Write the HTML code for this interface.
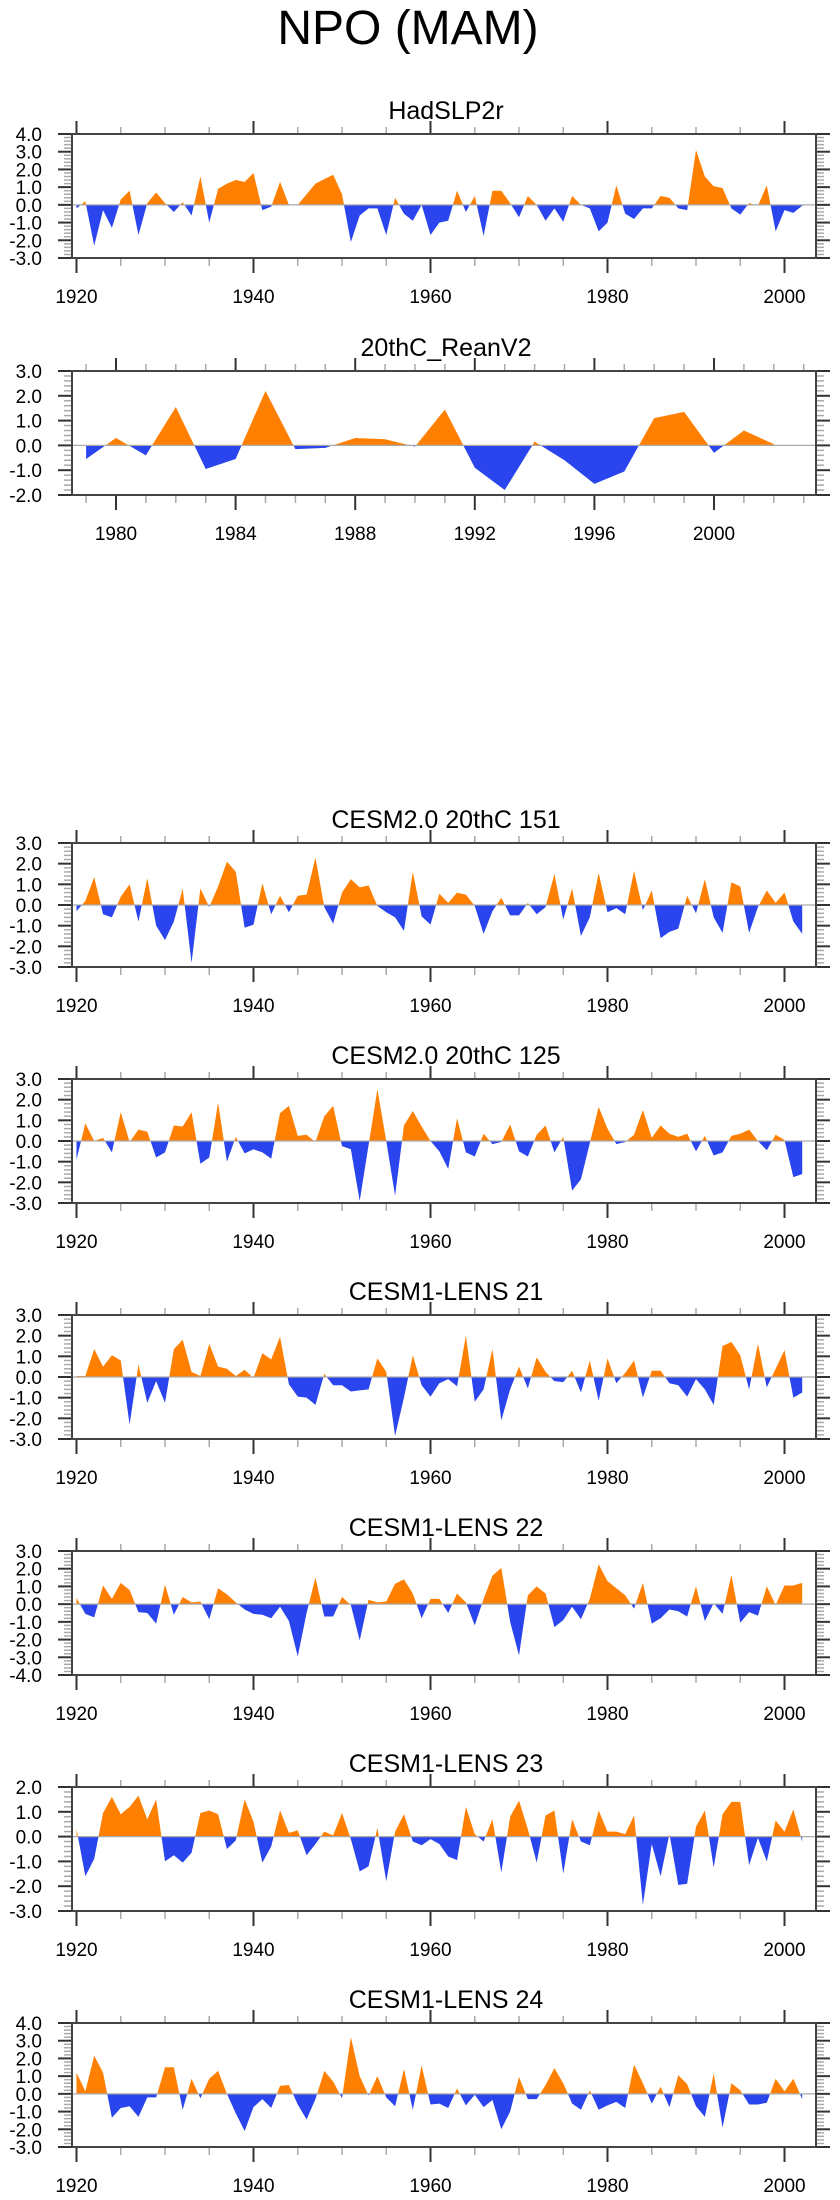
<!DOCTYPE html>
<html><head><meta charset="utf-8">
<style>
html,body{margin:0;padding:0;background:#fff;}
svg{display:block;font-family:"Liberation Sans",Arial,sans-serif;}
</style></head>
<body>
<svg id="chart" xmlns="http://www.w3.org/2000/svg" width="840" height="2200" viewBox="0 0 840 2200">
<text x="408" y="44" font-size="48" text-anchor="middle" fill="#000">NPO (MAM)</text>
</svg>
<script>
const panelTitles = ["HadSLP2r","20thC_ReanV2","CESM2.0 20thC 151","CESM2.0 20thC 125","CESM1-LENS 21","CESM1-LENS 22","CESM1-LENS 23","CESM1-LENS 24"];
const startYears = [1920,1979,1920,1920,1920,1920,1920,1920];
const yMaxes = [4,3,3,3,3,3,2,4];
const yMins = [-3,-2,-3,-3,-3,-4,-3,-3];
const seriesHad = [-0.2,0.2,-2.3,-0.3,-1.3,0.3,0.8,-1.7,0.1,0.7,
0.1,-0.4,0.15,-0.6,1.6,-1.0,0.9,1.2,1.4,1.3,
1.8,-0.3,-0.1,1.3,0.0,0.0,0.6,1.2,1.45,1.7,
0.6,-2.1,-0.6,-0.2,-0.2,-1.7,0.4,-0.5,-0.9,0.0,
-1.7,-1.0,-0.9,0.8,-0.4,0.5,-1.75,0.8,0.8,0.1,
-0.7,0.5,0.0,-0.9,-0.2,-0.95,0.5,0.0,-0.2,-1.5,
-1.0,1.1,-0.5,-0.8,-0.2,-0.2,0.5,0.4,-0.2,-0.3,
3.1,1.6,1.05,0.95,-0.2,-0.55,0.1,-0.05,1.1,-1.5,
-0.3,-0.45,-0.05];
const seriesRean = [-0.55,0.3,-0.4,1.55,-0.95,-0.55,2.2,-0.15,-0.1,0.3,0.25,-0.05,1.45,-0.9,-1.8,0.15,-0.6,-1.55,-1.05,1.1,1.35,-0.3,0.6,0.05];
const seriesC151 = [-0.3,0.2,1.35,-0.45,-0.6,0.4,1.0,-0.8,1.3,-1.0,
-1.7,-0.8,0.8,-2.8,0.8,-0.1,0.9,2.1,1.6,-1.1,
-0.95,1.05,-0.45,0.45,-0.35,0.45,0.5,2.3,-0.1,-0.9,
0.6,1.25,0.85,0.95,-0.05,-0.35,-0.6,-1.25,1.6,-0.55,
-0.95,0.55,0.1,0.6,0.5,-0.05,-1.4,-0.3,0.35,-0.5,
-0.5,0.1,-0.45,-0.1,1.5,-0.7,0.8,-1.5,-0.6,1.55,
-0.35,-0.15,-0.45,1.65,-0.25,0.7,-1.6,-1.3,-1.15,0.45,
-0.4,1.25,-0.6,-1.35,1.1,0.9,-1.35,-0.1,0.7,0.1,
0.6,-0.8,-1.4];
const seriesC125 = [-0.9,0.85,0.0,0.15,-0.55,1.4,-0.05,0.55,0.45,-0.8,
-0.55,0.75,0.7,1.4,-1.1,-0.8,1.85,-1.0,0.2,-0.6,
-0.4,-0.55,-0.85,1.35,1.7,0.25,0.3,-0.05,1.2,1.7,
-0.25,-0.4,-2.9,-0.2,2.5,0.0,-2.65,0.75,1.45,0.7,
0.0,-0.5,-1.35,1.1,-0.55,-0.75,0.35,-0.15,-0.05,0.8,
-0.5,-0.75,0.3,0.75,-0.55,0.2,-2.4,-1.85,-0.1,1.65,
0.6,-0.15,-0.05,0.3,1.5,0.15,0.75,0.35,0.2,0.35,
-0.5,0.25,-0.7,-0.55,0.25,0.35,0.55,0.0,-0.45,0.3,
0.05,-1.75,-1.6];
const seriesL21 = [0.05,0.05,1.35,0.5,1.05,0.8,-2.3,0.6,-1.25,-0.2,
-1.25,1.35,1.8,0.25,0.05,1.6,0.5,0.4,0.05,0.35,
-0.05,1.15,0.85,1.95,-0.35,-0.95,-1.0,-1.35,0.15,-0.4,
-0.4,-0.7,-0.65,-0.6,0.9,0.25,-2.85,-1.0,1.05,-0.4,
-0.95,-0.3,-0.1,-0.45,2.0,-1.2,-0.6,1.35,-2.1,-0.6,
0.5,-0.55,0.95,0.25,-0.2,-0.25,0.3,-0.75,0.8,-1.15,
0.9,-0.3,0.2,0.8,-1.0,0.3,0.3,-0.3,-0.4,-0.95,
-0.1,-0.6,-1.35,1.5,1.7,1.05,-0.6,1.6,-0.5,0.4,
1.3,-1.0,-0.75];
const seriesL22 = [0.35,-0.55,-0.75,1.05,0.3,1.2,0.8,-0.45,-0.5,-1.1,
1.1,-0.6,0.4,0.1,0.15,-0.85,0.9,0.55,0.1,-0.3,
-0.55,-0.6,-0.8,-0.15,-0.95,-2.95,-0.5,1.5,-0.7,-0.7,
0.4,-0.05,-2.05,0.25,0.1,0.15,1.15,1.4,0.6,-0.8,
0.3,0.3,-0.5,0.6,0.1,-1.2,0.3,1.6,2.05,-1.0,
-2.9,0.5,1.0,0.6,-1.3,-0.9,-0.15,-0.85,0.3,2.25,
1.3,0.9,0.5,-0.25,1.2,-1.1,-0.8,-0.3,-0.4,-0.7,
1.0,-0.95,0.05,-0.55,1.65,-1.05,-0.45,-0.65,1.0,-0.05,
1.05,1.05,1.2];
const seriesL23 = [0.3,-1.6,-0.9,0.95,1.6,0.9,1.2,1.65,0.7,1.5,
-1.0,-0.75,-1.05,-0.65,0.95,1.05,0.9,-0.5,-0.15,1.5,
0.6,-1.05,-0.4,1.05,0.15,0.25,-0.75,-0.3,0.2,0.05,
0.95,-0.1,-1.4,-1.2,0.35,-1.8,0.2,0.9,-0.2,-0.35,
-0.1,-0.3,-0.8,-0.95,1.2,0.1,-0.2,0.7,-1.45,0.8,
1.45,0.3,-1.05,0.85,1.05,-1.5,0.7,-0.2,-0.35,1.05,
0.2,0.2,0.1,0.85,-2.75,-0.3,-1.6,0.1,-1.95,-1.9,
0.4,1.05,-1.25,0.9,1.4,1.4,-1.15,-0.05,-1.0,0.65,
0.2,1.1,-0.2];
const seriesL24 = [1.2,0.15,2.15,1.2,-1.35,-0.8,-0.7,-1.3,-0.2,-0.2,
1.5,1.5,-0.9,0.85,-0.25,0.85,1.3,0.0,-1.1,-2.1,
-0.75,-0.3,-0.8,0.45,0.5,-0.6,-1.45,-0.3,1.3,0.7,
-0.25,3.2,1.0,-0.1,1.0,-0.2,-0.7,1.4,-0.9,1.6,
-0.6,-0.55,-0.8,0.3,-0.65,-0.05,-0.75,-0.35,-2.0,-1.0,
0.95,-0.3,-0.3,0.5,1.45,0.6,-0.55,-0.9,0.2,-0.9,
-0.65,-0.45,-0.8,1.65,0.6,-0.55,0.4,-0.75,1.05,0.55,
-0.7,-1.3,1.15,-1.9,0.6,0.2,-0.6,-0.6,-0.5,0.85,
0.15,0.85,-0.3];
const allSeries = [seriesHad,seriesRean,seriesC151,seriesC125,seriesL21,seriesL22,seriesL23,seriesL24];

const NS = "http://www.w3.org/2000/svg";
const svg = document.getElementById("chart");
const panelTops = [134,371,843,1079,1315,1551,1787,2023];
const PH = 124, FL = 72, FR = 816;
function mk(tag, attrs, parent){ const e=document.createElementNS(NS,tag); for(const k in attrs) e.setAttribute(k,attrs[k]); parent.appendChild(e); return e; }

for (let p=0;p<8;p++){
  const top=panelTops[p], bot=top+PH;
  const g=mk("g",{},svg);
  
  
  const yMax=yMaxes[p], yMin=yMins[p];
  const yS=v=>top+(yMax-v)/(yMax-yMin)*PH;
  const isRean=(p===1);
  const xS=isRean ? (yr=>116+(yr-1980)*29.9) : (yr=>76.5+(yr-1920)*8.85);
  const t=mk("text",{x:446,y:top-15,"font-size":25,"text-anchor":"middle",fill:"#000"},g);
  t.textContent=panelTitles[p];
  
  
  // area
  const data=allSeries[p], sy=startYears[p];
  const z=yS(0);
  let d="M"+xS(sy)+","+z;
  data.forEach((v,i)=>{ d+=" L"+xS(sy+i).toFixed(2)+","+yS(v).toFixed(2); });
  d+=" L"+xS(sy+data.length-1).toFixed(2)+","+z+" Z";
  const cpA=mk("clipPath",{id:"ca"+p},g); mk("rect",{x:FL,y:top,width:FR-FL,height:z-top},cpA);
  const cpB=mk("clipPath",{id:"cb"+p},g); mk("rect",{x:FL,y:z,width:FR-FL,height:bot-z},cpB);
  const pa=mk("path",{d:d,fill:"#FF8000","clip-path":"url(#ca"+p+")"},g);
  
  
  const pb=mk("path",{d:d,fill:"#2A44EE","clip-path":"url(#cb"+p+")"},g);
  
  
  const zl=mk("line",{x1:FL,x2:FR,y1:z,y2:z,stroke:"#aaa","stroke-width":1.2},g);
  
  
  // y ticks
  for(let v=yMin; v<=yMax+1e-6; v+=0.2){
    const yy=yS(v), major=Math.abs(v-Math.round(v))<1e-6;
    const len=major?14:8, col=major?"#333":"#aaa", w=major?2:1.5;
    mk("line",{x1:FL-len,x2:FL,y1:yy,y2:yy,stroke:col,"stroke-width":w},g);
    mk("line",{x1:FR,x2:FR+len,y1:yy,y2:yy,stroke:col,"stroke-width":w},g);
    if(major){
      const lb=mk("text",{x:42,y:yy+7,"font-size":19,"text-anchor":"end",fill:"#000"},g);
      lb.textContent=Math.round(v).toFixed(1);
      
      
    }
  }
  // x ticks
  const minorStep=isRean?1:5, majorStep=isRean?4:20, y0=isRean?1979:1920, y1=isRean?2003:2003;
  for(let yr=y0; yr<=y1; yr+=minorStep){
    const xx=xS(yr); if(xx<FL||xx>FR) continue;
    const major=(yr%majorStep===0);
    const col=major?"#333":"#aaa", w=major?2:1.5;
    mk("line",{x1:xx,x2:xx,y1:top-(major?13:7),y2:top,stroke:col,"stroke-width":w},g);
    mk("line",{x1:xx,x2:xx,y1:bot,y2:bot+(major?15:8),stroke:col,"stroke-width":w},g);
    if(major){
      const lb=mk("text",{x:xx,y:bot+45,"font-size":19,"text-anchor":"middle",fill:"#000"},g);
      lb.textContent=String(yr);
      
      
    }
  }
  const fr=mk("rect",{x:FL,y:top,width:FR-FL,height:PH,fill:"none",stroke:"#444","stroke-width":2},g);
  
  
}
</script>
</body></html>
